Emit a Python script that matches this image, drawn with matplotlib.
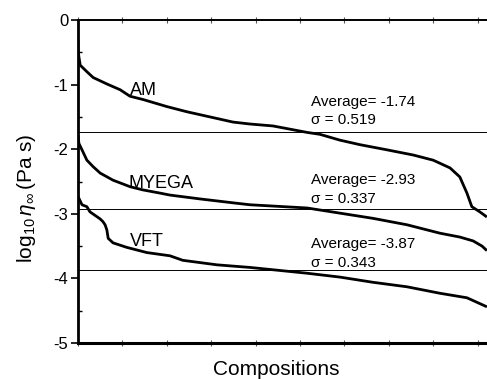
import matplotlib
matplotlib.use("Agg")
import matplotlib.pyplot as plt

plt.rcParams["font.family"] = ["Liberation Sans", "DejaVu Sans"]
plt.rcParams["mathtext.fontset"] = "custom"
plt.rcParams["mathtext.rm"] = "Liberation Sans"
plt.rcParams["mathtext.it"] = "Liberation Sans:italic"

# sorted log10(eta_inf) values (composition rank, value)
am_x = [0, 0, 2, 5, 20, 34, 65, 95, 117, 146, 200, 245, 297, 349, 387, 439,
        516, 545, 590, 635, 696, 755, 800, 838, 860, 876, 887, 905, 921]
am_y = [-0.30, -0.45, -0.57, -0.70, -0.80, -0.89, -0.99, -1.08, -1.18, -1.23,
        -1.34, -1.42, -1.50, -1.58, -1.61, -1.64, -1.74, -1.77, -1.86, -1.93,
        -2.01, -2.09, -2.17, -2.29, -2.43, -2.68, -2.89, -2.97, -3.05]

myega_x = [0, 2, 9, 20, 34, 50, 79, 117, 146, 185, 207, 275, 349, 387, 516,
           590, 664, 741, 815, 860, 890, 910, 921]
myega_y = [-1.78, -1.91, -2.01, -2.17, -2.27, -2.37, -2.48, -2.58, -2.63,
           -2.68, -2.71, -2.77, -2.83, -2.86, -2.91, -2.99, -3.07, -3.17,
           -3.30, -3.36, -3.42, -3.50, -3.57]

vft_x = [0, 2, 9, 20, 27, 50, 56, 61, 65, 68, 79, 110, 155, 207, 236, 313,
         387, 516, 590, 664, 741, 815, 876, 921]
vft_y = [-2.74, -2.76, -2.86, -2.89, -2.97, -3.08, -3.12, -3.17, -3.25, -3.38,
         -3.45, -3.52, -3.60, -3.65, -3.72, -3.79, -3.83, -3.92, -3.98, -4.06,
         -4.13, -4.23, -4.30, -4.44]

averages = [-1.74, -2.93, -3.87]
sigmas = [0.519, 0.337, 0.343]
names = ["AM", "MYEGA", "VFT"]

fig = plt.figure(figsize=(4.87, 3.79), dpi=100)
ax = fig.add_axes([78 / 487, 36 / 379, 444 / 487, 323 / 379])

for xs, ys in [(am_x, am_y), (myega_x, myega_y), (vft_x, vft_y)]:
    ax.plot(xs, ys, color="black", lw=2.0, solid_capstyle="butt")

for avg in averages:
    ax.axhline(avg, color="black", lw=0.7)

# model labels
name_pos = [(117, -1.16), (113, -2.60), (117, -3.50)]
for name, (tx, ty) in zip(names, name_pos):
    ax.text(tx, ty, name, fontsize=13, va="baseline", ha="left")

# average / sigma annotations
stat_y = [(-1.33, -1.61), (-2.54, -2.83), (-3.53, -3.82)]
for avg, sig, (y1, y2) in zip(averages, sigmas, stat_y):
    ax.text(525, y1, f"Average= {avg:.2f}", fontsize=11, va="baseline")
    ax.text(525, y2, f"\u03c3 = {sig:.3f}", fontsize=11, va="baseline")

ax.set_xlim(0, 1000)
ax.set_ylim(-5, 0)
ax.set_xticks(range(0, 1001, 100))
ax.set_xticklabels([])
ax.set_yticks([0, -1, -2, -3, -4, -5])
ax.set_yticklabels(["0", "-1", "-2", "-3", "-4", "-5"], fontsize=12)
ax.set_yticks([-0.5, -1.5, -2.5, -3.5, -4.5], minor=True)
ax.tick_params(axis="y", which="major", direction="out", length=5, width=1.2, pad=2)
ax.tick_params(axis="y", which="minor", direction="in", length=3, width=1)
ax.tick_params(axis="x", which="major", top=True, direction="inout", length=4, width=0.8, color="#555555")

ax.spines["left"].set_linewidth(2.0)
ax.spines["bottom"].set_linewidth(2.2)
ax.spines["top"].set_linewidth(1.4)
ax.spines["right"].set_linewidth(1.4)

fig.text(27 / 487, 1 - 198 / 379,
         r"$\mathregular{log_{10}}\,\eta_{\infty}\,\mathregular{(Pa\ s)}$",
         rotation=90, ha="center", va="center", fontsize=15)
fig.text(276.5 / 487, 4 / 379, "Compositions", ha="center", va="baseline", fontsize=15)

fig.savefig("out.png", dpi=100)
